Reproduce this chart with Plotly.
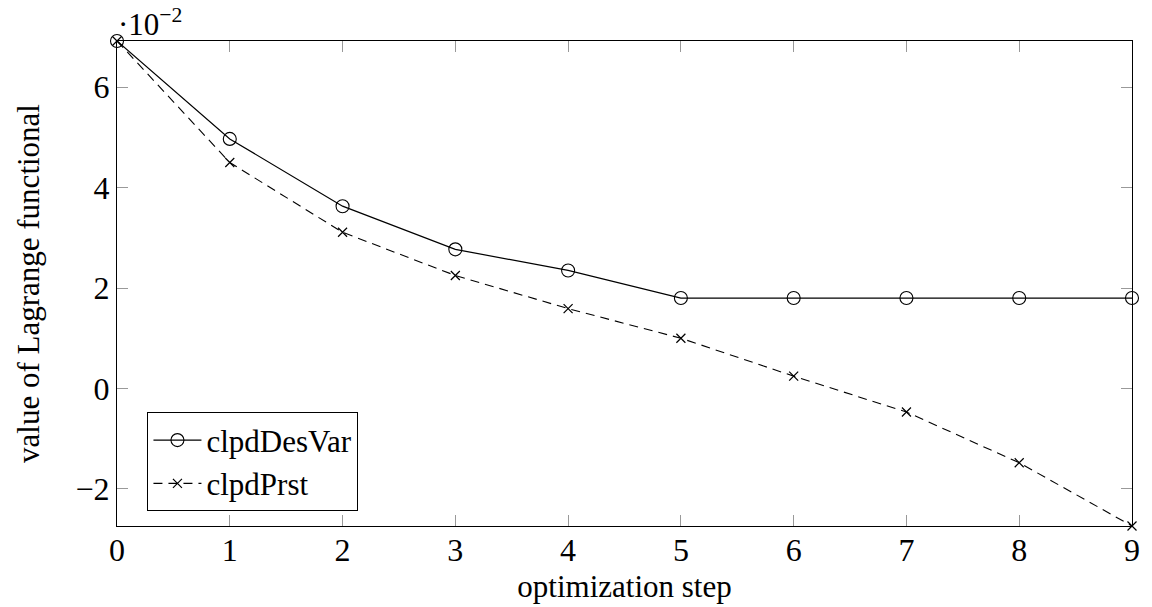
import plotly.graph_objects as go

steps = [0, 1, 2, 3, 4, 5, 6, 7, 8, 9]
clpd_des_var = [6.92, 4.97, 3.63, 2.77, 2.35, 1.80, 1.80, 1.80, 1.80, 1.80]
clpd_prst = [6.92, 4.50, 3.11, 2.25, 1.59, 1.00, 0.245, -0.47, -1.48, -2.74]
x_ticks = [0, 1, 2, 3, 4, 5, 6, 7, 8, 9]
y_ticks = [-2, 0, 2, 4, 6]

FONT = "'Liberation Serif', 'DejaVu Serif', serif"
FS = 31

fig = go.Figure()
fig.add_trace(go.Scatter(
    x=steps, y=clpd_des_var, name="clpdDesVar", mode="lines+markers",
    line=dict(color="black", width=1.2),
    marker=dict(symbol="circle-open", size=13, color="black", line=dict(width=1.1)),
    cliponaxis=False,
))
fig.add_trace(go.Scatter(
    x=steps, y=clpd_prst, name="clpdPrst", mode="lines+markers",
    line=dict(color="black", width=1.1, dash="9px,6px"),
    marker=dict(symbol="x-thin-open", size=9, color="black", line=dict(width=1.2)),
    cliponaxis=False,
))

axis_common = dict(
    showgrid=False, zeroline=False, showline=True, linecolor="black", linewidth=1.2,
    mirror="ticks", ticks="inside", ticklen=11, tickwidth=1, tickcolor="#999",
    tickfont=dict(family=FONT, size=32, color="black"), automargin=False,
)
fig.update_xaxes(range=[0, 9], tickvals=x_ticks, ticklabelstandoff=-5,
                 title=dict(text="optimization step", font=dict(family=FONT, size=FS, color="black"), standoff=8),
                 **axis_common)
fig.update_yaxes(range=[min(clpd_prst), max(clpd_des_var)], tickvals=y_ticks,
                 ticktext=["\u22122", "0", "2", "4", "6"],
                 title=dict(text="value of Lagrange functional", font=dict(family=FONT, size=FS, color="black"), standoff=26),
                 **axis_common)

fig.add_annotation(xref="paper", yref="paper", x=0, y=1, xanchor="left", yanchor="bottom",
                   text="\u00b710<sup>\u22122</sup>", showarrow=False, xshift=-1, yshift=-3,
                   font=dict(family=FONT, size=FS, color="black"))

fig.update_layout(
    width=1152, height=607,
    margin=dict(l=117, r=20, t=41, b=81),
    plot_bgcolor="white", paper_bgcolor="white",
    font=dict(family=FONT, size=FS, color="black"),
    legend=dict(x=0.03, y=0.03, xanchor="left", yanchor="bottom",
                bgcolor="white", bordercolor="black", borderwidth=1,
                font=dict(family=FONT, size=FS, color="black"),
                tracegroupgap=0, itemwidth=48),
    showlegend=True,
)
fig.write_html("out.html")
